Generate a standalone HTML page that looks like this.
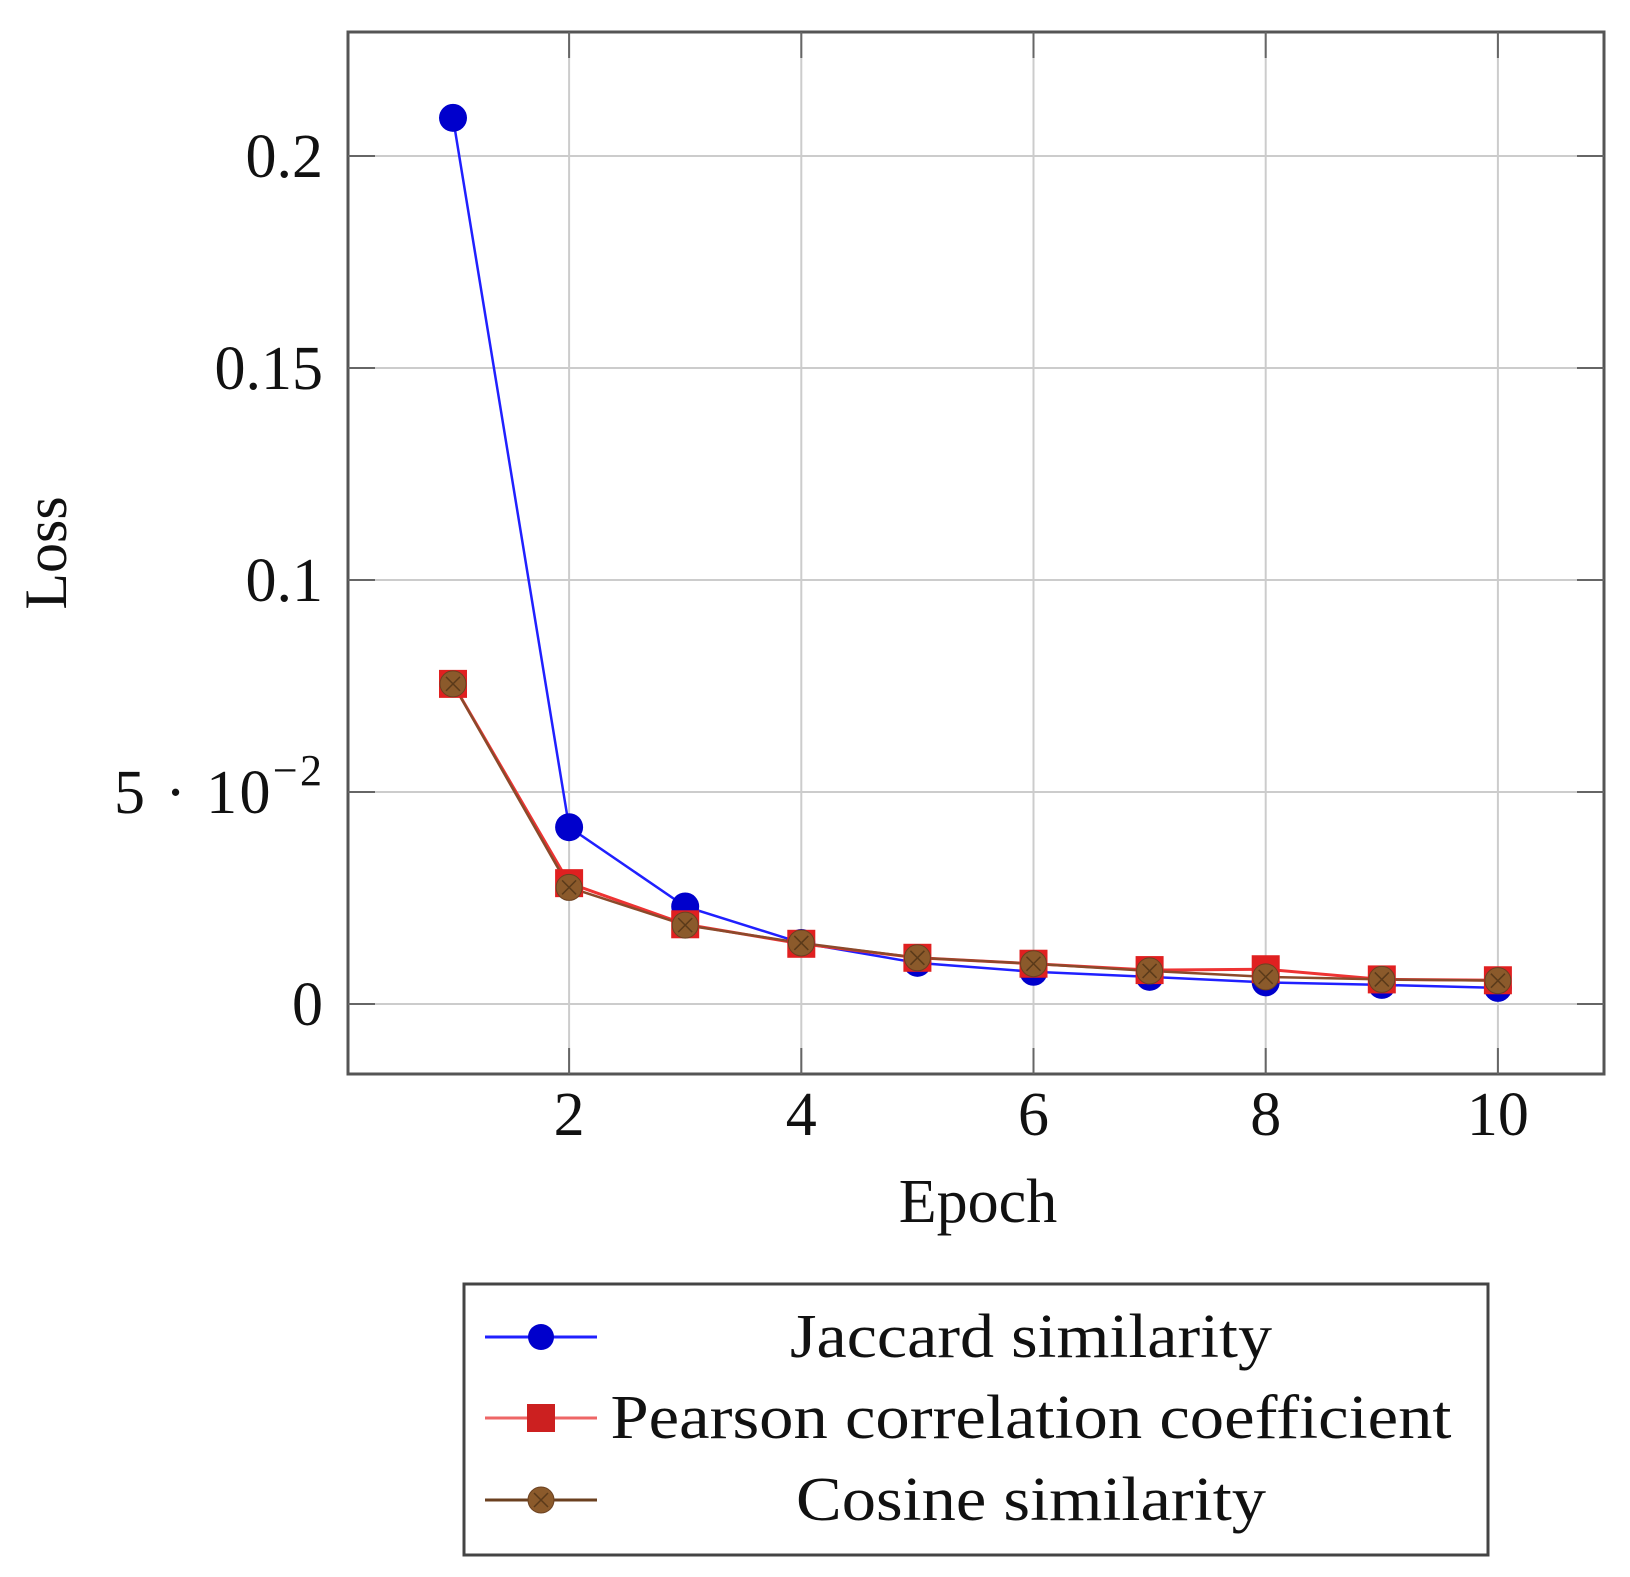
<!DOCTYPE html>
<html><head><meta charset="utf-8"><style>
html,body{margin:0;padding:0;background:#fff;}
svg{display:block;font-family:"Liberation Serif",serif;}
</style></head><body>
<svg id="chart" width="1630" height="1577" viewBox="0 0 1630 1577" xmlns="http://www.w3.org/2000/svg">
<g id="grid"></g>
<g id="series"></g>
<rect x="348" y="32" width="1256" height="1042" fill="none" stroke="#555" stroke-width="3"/>
<g id="ticks"></g>
<text x="0" y="0" transform="translate(66,553) rotate(-90)" text-anchor="middle" font-size="60" fill="#111">Loss</text>
<text x="978" y="1222" text-anchor="middle" font-size="62" fill="#111">Epoch</text>
<g id="legend">
<rect x="464" y="1284" width="1024" height="271" fill="#fff" stroke="#444" stroke-width="3"/>
</g>
</svg>
<script>
const epochs = [1,2,3,4,5,6,7,8,9,10];
const jaccard = [0.209,0.0417,0.023,0.0144,0.0097,0.0076,0.0064,0.0051,0.0045,0.0038];
const pearson = [0.0755,0.0285,0.0188,0.0142,0.0109,0.0095,0.0080,0.0082,0.0058,0.0056];
const cosine = [0.0755,0.0275,0.0186,0.0144,0.0109,0.0095,0.0078,0.0064,0.0058,0.0055];
const xTicks = [2,4,6,8,10];
const yTicks = [0,0.05,0.1,0.15,0.2];
const yTickLabels = ["0","5·10","0.1","0.15","0.2"];
const seriesNames = ["Jaccard similarity","Pearson correlation coefficient","Cosine similarity"];

const NS = "http://www.w3.org/2000/svg";
function X(v){ return 453 + (v-1)*116.1; }
function Y(v){ return 1004 - v*4240; }
function mk(tag, attrs, parent){
  const e = document.createElementNS(NS, tag);
  for (const k in attrs) e.setAttribute(k, attrs[k]);
  parent.appendChild(e); return e;
}
const grid = document.getElementById('grid');
const ticks = document.getElementById('ticks');
const series = document.getElementById('series');

xTicks.forEach(t=>{
  const l = mk('line',{x1:X(t),x2:X(t),y1:32,y2:1074,stroke:'#ccc','stroke-width':2},grid);
  
  
  const a = mk('line',{x1:X(t),x2:X(t),y1:1074,y2:1048,stroke:'#666','stroke-width':2},ticks);
  
  
  const b = mk('line',{x1:X(t),x2:X(t),y1:32,y2:58,stroke:'#666','stroke-width':2},ticks);
  
  
  const tx = mk('text',{x:X(t),y:1135,'text-anchor':'middle','font-size':62,fill:'#111'},ticks);
  tx.textContent = String(t);
  
  
});
yTicks.forEach((t,i)=>{
  const l = mk('line',{x1:348,x2:1604,y1:Y(t),y2:Y(t),stroke:'#ccc','stroke-width':2},grid);
  
  
  const a = mk('line',{x1:348,x2:375,y1:Y(t),y2:Y(t),stroke:'#666','stroke-width':2},ticks);
  
  
  const b = mk('line',{x1:1577,x2:1604,y1:Y(t),y2:Y(t),stroke:'#666','stroke-width':2},ticks);
  
  
  const tx = mk('text',{x:323,y:Y(t)+21,'text-anchor':'end','font-size':62,fill:'#111'},ticks);
  
  
  if (yTickLabels[i] === "5·10"){
    tx.textContent = "5 · 10";
    const sup = mk('tspan',{dy:-28,'font-size':44},tx);
    sup.textContent = "−2";
    tx.setAttribute('x', 322);
    tx.setAttribute('textLength', 208);
    tx.setAttribute('lengthAdjust','spacing');
  } else {
    tx.textContent = yTickLabels[i];
  }
});

function circle(cx,cy,r,fill,parent,name){
  const c = mk('circle',{cx:cx,cy:cy,r:r,fill:fill},parent);
  
  
  return c;
}
function square(cx,cy,s,fill,parent,name){
  const r = mk('rect',{x:cx-s/2,y:cy-s/2,width:s,height:s,fill:fill},parent);
  
  
  return r;
}
function cosMarker(cx,cy,parent,name){
  const g = mk('g',{},parent);
  
  
  mk('circle',{cx:cx,cy:cy,r:13,fill:'#8b5a2b',stroke:'#6b4020','stroke-width':1},g);
  const d=7;
  mk('path',{d:`M${cx-d} ${cy-d}L${cx+d} ${cy+d}M${cx+d} ${cy-d}L${cx-d} ${cy+d}`,stroke:'#5a3a1a','stroke-width':1.5},g);
  return g;
}
function drawLine(vals,color,w,name){
  const p = mk('polyline',{points:vals.map((v,i)=>X(epochs[i])+','+Y(v)).join(' '),fill:'none',stroke:color,'stroke-width':w},series);
  
  
}
drawLine(jaccard,'#2020ff',2.5,'jaccard-line');
drawLine(pearson,'#ee3333',3,'pearson-line');
drawLine(cosine,'#8b4a2b',2.5,'cosine-line');
jaccard.forEach((v,i)=>circle(X(epochs[i]),Y(v),14,'#0000cc',series,'jaccard-point'));
pearson.forEach((v,i)=>square(X(epochs[i]),Y(v),28,'#e02020',series,'pearson-point'));
cosine.forEach((v,i)=>cosMarker(X(epochs[i]),Y(v),series,'cosine-point'));

const legend = document.getElementById('legend');
const rowY = [1337,1418,1500];
const lcolors = ['#2020ff','#ee6666','#6b4020'];
rowY.forEach((y,i)=>{
  const g = mk('g',{},legend);
  
  
  mk('line',{x1:485,x2:597,y1:y,y2:y,stroke:lcolors[i],'stroke-width':3},g);
  if(i===0) circle(541,y,13,'#0000cc',g,'legend-marker');
  if(i===1) square(541,y,28,'#cc2020',g,'legend-marker');
  if(i===2) cosMarker(541,y,g,'legend-marker');
  const t = mk('text',{x:1031,y:y+20,'text-anchor':'middle','font-size':62,fill:'#111'},g);
  t.textContent = seriesNames[i];
  if(i===1){ t.setAttribute('textLength',841); t.setAttribute('lengthAdjust','spacingAndGlyphs'); }
  if(i===0){ t.setAttribute('textLength',482); t.setAttribute('lengthAdjust','spacingAndGlyphs'); }
  if(i===2){ t.setAttribute('textLength',470); t.setAttribute('lengthAdjust','spacingAndGlyphs'); }
});
</script>
</body></html>
